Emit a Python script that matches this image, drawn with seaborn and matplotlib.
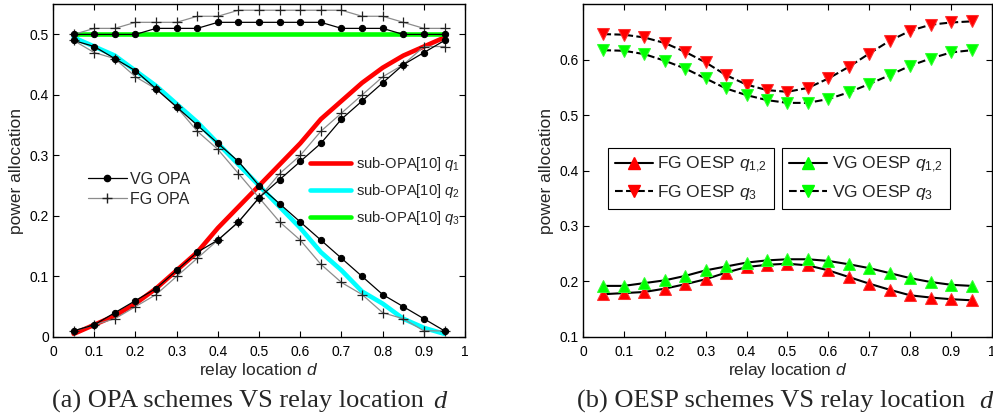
import numpy as np
import matplotlib
matplotlib.use("Agg")
from matplotlib import pyplot as plt
import seaborn as sns

# relay location d
d = [0.05, 0.10, 0.15, 0.20, 0.25, 0.30, 0.35, 0.40, 0.45, 0.50,
     0.55, 0.60, 0.65, 0.70, 0.75, 0.80, 0.85, 0.90, 0.95]

# (a) OPA schemes
vg_q1 = [0.01, 0.02, 0.04, 0.06, 0.08, 0.11, 0.14, 0.16, 0.19, 0.23,
         0.26, 0.29, 0.32, 0.36, 0.39, 0.42, 0.45, 0.47, 0.49]
vg_q2 = [0.49, 0.48, 0.46, 0.44, 0.41, 0.38, 0.35, 0.32, 0.29, 0.25,
         0.22, 0.19, 0.16, 0.13, 0.10, 0.07, 0.05, 0.03, 0.01]
vg_q3 = [0.50, 0.50, 0.50, 0.50, 0.51, 0.51, 0.51, 0.52, 0.52, 0.52,
         0.52, 0.52, 0.52, 0.51, 0.51, 0.51, 0.50, 0.50, 0.50]
fg_q1 = [0.01, 0.02, 0.03, 0.05, 0.07, 0.10, 0.13, 0.16, 0.19, 0.23,
         0.27, 0.30, 0.34, 0.37, 0.40, 0.43, 0.45, 0.48, 0.48]
fg_q2 = [0.49, 0.47, 0.46, 0.43, 0.41, 0.38, 0.34, 0.31, 0.27, 0.23,
         0.19, 0.16, 0.12, 0.09, 0.07, 0.04, 0.03, 0.01, 0.01]
fg_q3 = [0.50, 0.51, 0.51, 0.52, 0.52, 0.52, 0.53, 0.53, 0.54, 0.54,
         0.54, 0.54, 0.54, 0.54, 0.53, 0.53, 0.52, 0.51, 0.51]
sub_q1 = [0.005, 0.02, 0.035, 0.055, 0.08, 0.11, 0.14, 0.18, 0.215, 0.25,
          0.285, 0.32, 0.36, 0.39, 0.42, 0.445, 0.465, 0.48, 0.495]
sub_q2 = [0.495, 0.48, 0.465, 0.44, 0.415, 0.385, 0.355, 0.32, 0.285, 0.25,
          0.215, 0.18, 0.14, 0.11, 0.075, 0.055, 0.03, 0.015, 0.005]
sub_q3 = [0.50, 0.50, 0.50, 0.50, 0.50, 0.50, 0.50, 0.50, 0.50, 0.50,
          0.50, 0.50, 0.50, 0.50, 0.50, 0.50, 0.50, 0.50, 0.50]

# (b) OESP schemes
fg_oesp_q12 = [0.177, 0.179, 0.181, 0.187, 0.195, 0.204, 0.216, 0.226, 0.230, 0.232,
               0.229, 0.220, 0.208, 0.196, 0.185, 0.175, 0.171, 0.168, 0.166]
fg_oesp_q3 = [0.646, 0.645, 0.640, 0.630, 0.614, 0.595, 0.572, 0.555, 0.545, 0.542,
              0.549, 0.566, 0.587, 0.611, 0.634, 0.652, 0.663, 0.667, 0.669]
vg_oesp_q12 = [0.192, 0.192, 0.197, 0.202, 0.210, 0.220, 0.227, 0.234, 0.238, 0.240,
               0.240, 0.237, 0.231, 0.224, 0.215, 0.206, 0.199, 0.194, 0.192]
vg_oesp_q3 = [0.617, 0.616, 0.610, 0.598, 0.584, 0.566, 0.548, 0.536, 0.527, 0.522,
              0.522, 0.529, 0.541, 0.556, 0.572, 0.589, 0.602, 0.613, 0.617]

x_ticks = [0, 0.1, 0.2, 0.3, 0.4, 0.5, 0.6, 0.7, 0.8, 0.9, 1.0]
x_ticklabels = ['0', '0.1', '0.2', '0.3', '0.4', '0.5', '0.6', '0.7', '0.8', '0.9', '1']
ya_ticks = [0, 0.1, 0.2, 0.3, 0.4, 0.5]
ya_ticklabels = ['0', '0.1', '0.2', '0.3', '0.4', '0.5']
yb_ticks = [0.1, 0.2, 0.3, 0.4, 0.5, 0.6]
yb_ticklabels = ['0.1', '0.2', '0.3', '0.4', '0.5', '0.6']

sns.set_theme(style='ticks')
plt.rcParams['font.family'] = ['Liberation Sans', 'DejaVu Sans']
plt.rcParams['mathtext.fontset'] = 'custom'
plt.rcParams['mathtext.rm'] = 'Liberation Sans'
plt.rcParams['mathtext.it'] = 'Liberation Sans:italic'

fig = plt.figure(figsize=(9.93, 4.18), dpi=100)
ax1 = fig.add_axes([0.0534, 0.194, 0.415, 0.796])
ax2 = fig.add_axes([0.587, 0.194, 0.412, 0.796])

# ---- (a) ----
sns.lineplot(x=d, y=sub_q1, ax=ax1, color='#ff0000', lw=3.3, zorder=2)
sns.lineplot(x=d, y=sub_q2, ax=ax1, color='#00ffff', lw=3.3, zorder=2)
sns.lineplot(x=d, y=sub_q3, ax=ax1, color='#00ff00', lw=3.3, zorder=2)
for s in [fg_q1, fg_q2, fg_q3]:
    sns.lineplot(x=d, y=s, ax=ax1, color='#8c8c8c', lw=0.9, marker='+',
                 ms=7, mec='#222222', mew=0.9, zorder=3)
for s in [vg_q1, vg_q2, vg_q3]:
    sns.lineplot(x=d, y=s, ax=ax1, color='black', lw=0.9, marker='o',
                 ms=4.5, mec='black', mfc='black', zorder=4)

h_vg = plt.Line2D([], [], color='black', lw=0.9, marker='o', ms=4.5)
h_fg = plt.Line2D([], [], color='#8c8c8c', lw=0.9, marker='+', ms=7, mec='#222222')
leg1 = ax1.legend([h_vg, h_fg], ['VG OPA', 'FG OPA'], loc='upper left',
                  bbox_to_anchor=(0.07, 0.515), frameon=False, fontsize=11.5,
                  handlelength=2.4, handletextpad=0.2, labelspacing=0.3,
                  borderaxespad=0)
ax1.add_artist(leg1)
h_s = [plt.Line2D([], [], color=c, lw=3.3) for c in ['#ff0000', '#00ffff', '#00ff00']]
ax1.legend(h_s, ['sub-OPA[10] $q_1$', 'sub-OPA[10] $q_2$', 'sub-OPA[10] $q_3$'],
           loc='upper left', bbox_to_anchor=(0.61, 0.565), frameon=False,
           fontsize=10.6, handlelength=2.75, handletextpad=0.35, labelspacing=0.62,
           borderaxespad=0)

ax1.set_xlim(0, 1)
ax1.set_ylim(0, 0.55)
ax1.set_xticks(x_ticks)
ax1.set_xticklabels(x_ticklabels)
ax1.set_yticks(ya_ticks)
ax1.set_yticklabels(ya_ticklabels)

# ---- (b) ----
sns.lineplot(x=d, y=fg_oesp_q12, ax=ax2, color='black', lw=1.5, marker='^',
             ms=9, mfc='#ff0000', mec='#ff3030', zorder=3)
sns.lineplot(x=d, y=fg_oesp_q3, ax=ax2, color='black', lw=1.5, ls='--', marker='v',
             ms=9, mfc='#ff0000', mec='#ff3030', zorder=3)
sns.lineplot(x=d, y=vg_oesp_q12, ax=ax2, color='black', lw=1.5, marker='^',
             ms=9, mfc='#00ff00', mec='#30ff30', zorder=3)
sns.lineplot(x=d, y=vg_oesp_q3, ax=ax2, color='black', lw=1.5, ls='--', marker='v',
             ms=9, mfc='#00ff00', mec='#30ff30', zorder=3)

def oesp_handles(col):
    return [plt.Line2D([], [], color='black', lw=1.5, marker='^', ms=9, mfc=col, mec=col),
            plt.Line2D([], [], color='black', lw=1.5, ls='--', marker='v', ms=9, mfc=col, mec=col)]

lg_kw = dict(loc='upper left', fontsize=12.5, handlelength=2.2, handletextpad=0.25,
             labelspacing=0.45, borderaxespad=0, fancybox=False, framealpha=1,
             edgecolor='black', borderpad=0.4)
lb1 = ax2.legend(oesp_handles('#ff0000'), ['FG OESP $q_{1{,}2}$', 'FG OESP $q_3$'],
                 bbox_to_anchor=(0.061, 0.568), **lg_kw)
lb1.get_frame().set_linewidth(0.8)
ax2.add_artist(lb1)
lb2 = ax2.legend(oesp_handles('#00ff00'), ['VG OESP $q_{1{,}2}$', 'VG OESP $q_3$'],
                 bbox_to_anchor=(0.487, 0.568), **lg_kw)
lb2.get_frame().set_linewidth(0.8)

ax2.set_xlim(0, 1)
ax2.set_ylim(0.1, 0.7)
ax2.set_xticks(x_ticks)
ax2.set_xticklabels(x_ticklabels)
ax2.set_yticks(yb_ticks)
ax2.set_yticklabels(yb_ticklabels)

for ax in [ax1, ax2]:
    for sp in ax.spines.values():
        sp.set_visible(True)
        sp.set_color('black')
        sp.set_linewidth(1.0)
    ax.tick_params(direction='in', length=4, width=0.8, top=True, right=True,
                   labelsize=10, colors='black', pad=3)
    ax.tick_params(axis='x', pad=6)
    ax.set_xlabel('relay location $d$', fontsize=12.5, labelpad=1)
    ax.set_ylabel('power allocation', fontsize=12.5, labelpad=4)
    ax.set_facecolor('white')

# captions below each panel
cap_kw = dict(fontsize=19, family='Liberation Serif', va='baseline', ha='left')
fig.text(0.052, 0.024, '(a) OPA schemes VS relay location', **cap_kw)
fig.text(0.436, 0.024, 'd', style='italic', **cap_kw)
fig.text(0.581, 0.024, '(b) OESP schemes VS relay location', **cap_kw)
fig.text(0.986, 0.024, 'd', style='italic', **cap_kw)

fig.savefig('out.png', dpi=100)
